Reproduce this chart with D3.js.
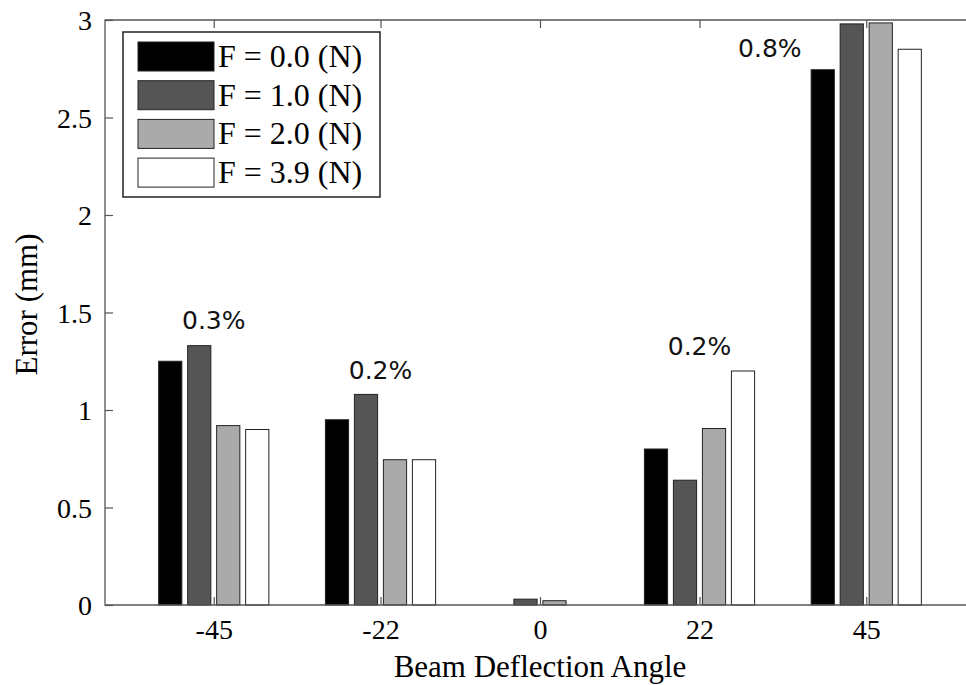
<!DOCTYPE html>
<html>
<head>
<meta charset="utf-8">
<script src="https://cdn.jsdelivr.net/npm/d3@7"></script>
<style>
  body { margin: 0; background: #fff; }
  svg { display: block; }
</style>
</head>
<body>
<div id="chart"></div>
<script>
// angles on the x axis (numeric, as in the original plot)
const angles = [-45, -22, 0, 22, 45];
const seriesNames = ["F = 0.0 (N)", "F = 1.0 (N)", "F = 2.0 (N)", "F = 3.9 (N)"];
const seriesColors = ["#000000", "#555555", "#aaaaaa", "#ffffff"];

const errF0 = [1.25, 0.95, 0.0, 0.80, 2.745];
const errF1 = [1.33, 1.08, 0.03, 0.64, 2.98];
const errF2 = [0.92, 0.745, 0.022, 0.905, 2.985];
const errF3 = [0.90, 0.745, 0.0, 1.20, 2.85];
const series = [errF0, errF1, errF2, errF3];

const yTicks = [0, 0.5, 1, 1.5, 2, 2.5, 3];

// percentage notes: angle position, y value, text
const noteX = [-45, -22, 22, 31.7];
const noteY = [1.415, 1.16, 1.282, 2.81];
const noteText = ["0.3%", "0.2%", "0.2%", "0.8%"];

const width = 966, height = 685;
const margin = { top: 20, left: 105, bottom: 80 };
const plotBottom = height - margin.bottom;

const svg = d3.select("#chart").append("svg")
	.attr("width", width)
	.attr("height", height);

const x = d3.scaleLinear().domain([-60, 60]).range([105, 975]);
const y = d3.scaleLinear().domain([0, 3]).range([plotBottom, margin.top]);

const groupStep = 4;   // distance between bars of a group, in x units
const barWidth = 3.2;

// bars
series.forEach((vals, si) => {
	const offset = (si - 1.5) * groupStep;
	svg.append("g")
		.selectAll("rect")
		.data(vals.map((v, i) => ({ a: angles[i], v })))
		.join("rect")
		.attr("x", d => x(d.a + offset - barWidth / 2))
		.attr("width", x(barWidth) - x(0))
		.attr("y", d => y(d.v))
		.attr("height", d => y(0) - y(d.v))
		.attr("fill", seriesColors[si])
		.attr("stroke", "#222")
		.attr("stroke-width", 1)
		.attr("display", d => d.v > 0 ? null : "none");
});

// axes box
const axisColor = "#555";
const serif = "'Liberation Serif', 'Times New Roman', serif";

svg.append("path")
	.attr("d", `M${x(60)},${y(3)}H${x(-60)}V${y(0)}H${x(60)}`)
	.attr("fill", "none")
	.attr("stroke", axisColor)
	.attr("stroke-width", 1.3);

const xAxis = svg.append("g")
	.attr("transform", `translate(0,${plotBottom})`)
	.call(d3.axisBottom(x).tickValues(angles).tickSize(-8).tickPadding(14).tickFormat(d => String(d)));
const xTop = svg.append("g")
	.attr("transform", `translate(0,${margin.top})`)
	.call(d3.axisTop(x).tickValues(angles).tickSize(-8).tickFormat(""));
const yAxis = svg.append("g")
	.attr("transform", `translate(${x(-60)},0)`)
	.call(d3.axisLeft(y).tickValues(yTicks).tickSize(-8).tickPadding(13).tickFormat(d => String(d)));

[xAxis, xTop, yAxis].forEach(g => {
	g.select(".domain").remove();
	g.selectAll("line").attr("stroke", axisColor).attr("stroke-width", 1.2);
	g.selectAll("text")
		.attr("font-family", serif)
		.attr("font-size", "28px")
		.attr("fill", "#000");
});
xAxis.selectAll("text").attr("dy", "0.71em");
yAxis.selectAll("text").attr("dy", "0.35em");

// axis titles
svg.append("text")
	.attr("x", x(0))
	.attr("y", 677)
	.attr("text-anchor", "middle")
	.attr("font-family", serif)
	.attr("font-size", "31px")
	.text("Beam Deflection Angle");

svg.append("text")
	.attr("transform", `translate(37,${(y(0) + y(3)) / 2 - 8}) rotate(-90)`)
	.attr("text-anchor", "middle")
	.attr("font-family", serif)
	.attr("font-size", "31px")
	.text("Error (mm)");

// notes
svg.append("g")
	.selectAll("text")
	.data(noteText)
	.join("text")
	.attr("x", (d, i) => x(noteX[i]))
	.attr("y", (d, i) => y(noteY[i]))
	.attr("text-anchor", "middle")
	.attr("font-family", "'DejaVu Sans', Verdana, sans-serif")
	.attr("font-size", "25px")
	.attr("fill", "#111")
	.text(d => d);

// legend
const legend = svg.append("g").attr("transform", "translate(123,32)");
legend.append("rect")
	.attr("width", 257)
	.attr("height", 165)
	.attr("fill", "#fff")
	.attr("stroke", "#222")
	.attr("stroke-width", 1.5);

const rows = legend.selectAll("g.row")
	.data(seriesNames)
	.join("g")
	.attr("class", "row")
	.attr("transform", (d, i) => `translate(15,${10 + i * 38.7})`);

rows.append("rect")
	.attr("width", 76)
	.attr("height", 29)
	.attr("fill", (d, i) => seriesColors[i])
	.attr("stroke", "#222")
	.attr("stroke-width", 1);

rows.append("text")
	.attr("x", 80)
	.attr("y", 25)
	.attr("font-family", serif)
	.attr("font-size", "32px")
	.text(d => d);
</script>
</body>
</html>
